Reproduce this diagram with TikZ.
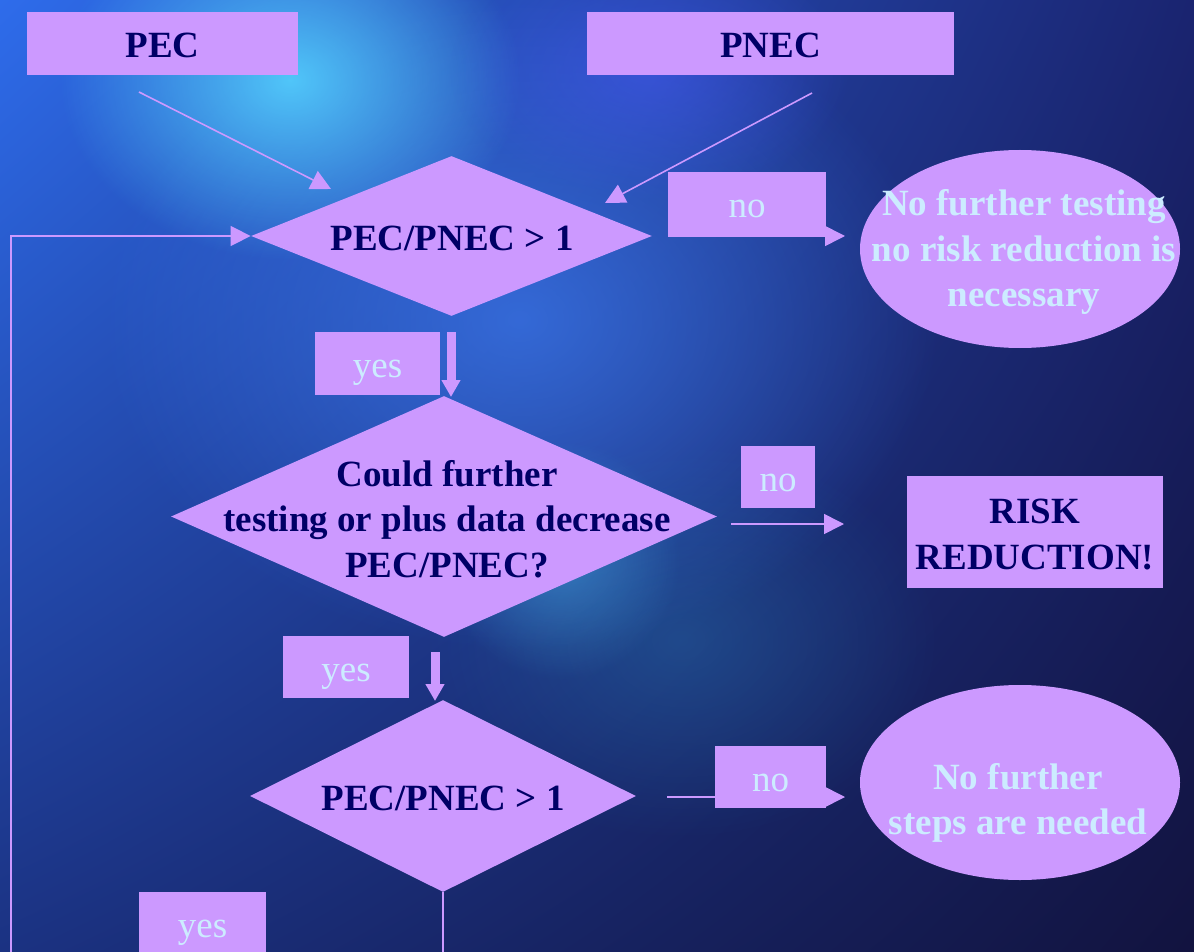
\documentclass[tikz,border=0pt]{standalone}
\usepackage{fontspec}
\setmainfont{Liberation Serif}
\usetikzlibrary{shapes.geometric,arrows.meta,fadings,shadings}
\tikzfading[name=glowfade, inner color=transparent!0, outer color=transparent!100]
\definecolor{lav}{HTML}{CC99FF}
\definecolor{navy}{HTML}{000066}
\definecolor{pale}{HTML}{CCECFF}
\definecolor{bgUL}{HTML}{2E6CEB}
\definecolor{bgUR}{HTML}{1A2470}
\definecolor{bgLL}{HTML}{1B3282}
\definecolor{bgLR}{HTML}{12133F}
\definecolor{glowA}{HTML}{55D2FF}
\definecolor{glowB}{HTML}{3D7BF0}
\definecolor{glowC}{HTML}{2A80B8}
\definecolor{glowD}{HTML}{4A5CFF}
\begin{document}
\begin{tikzpicture}[x=0.5pt,y=-0.5pt,
  lbox/.style={rectangle, fill=lav, inner sep=0pt},
  bt/.style={text=navy, font=\fontsize{18.5pt}{22.75pt}\selectfont\bfseries},
  lt/.style={text=pale, font=\fontsize{18.5pt}{22.75pt}\selectfont},
  ltb/.style={text=pale, font=\fontsize{18.5pt}{22.75pt}\selectfont\bfseries},
  one/.style={text height=14pt, text depth=0pt},
  dia/.style={diamond, fill=lav, inner sep=0pt},
  ell/.style={ellipse, fill=lav, inner sep=0pt},
  thinarr/.style={draw=lav, line width=0.8pt, -{Triangle[length=10pt,width=10pt]}},
  thickarr/.style={draw=lav, line width=4.5pt, -{Triangle[length=8.5pt,width=9pt]}},
  glow/.style={path fading=glowfade}]
\useasboundingbox (0,0) rectangle (1194,952);
\clip (0,0) rectangle (1194,952);
% background
\shade[upper left=bgUL, upper right=bgUR, lower left=bgLL, lower right=bgLR] (0,0) rectangle (1194,952);
\fill[glowB, glow, opacity=0.7] (520,320) ellipse [x radius=420, y radius=330];
\fill[glowA, glow, opacity=0.9] (290,80) ellipse [x radius=230, y radius=180];
\fill[glowD, glow, opacity=0.5] (650,70) ellipse [x radius=200, y radius=130];
\fill[glowC, glow, opacity=0.35] (680,640) ellipse [x radius=260, y radius=200];
\fill[glowA, glow, opacity=0.35] (560,560) ellipse [x radius=120, y radius=120];

% nodes
\node[lbox, bt, one, minimum width=135.5pt, minimum height=31.5pt] (pec) at (162.5,43.5) {PEC};
\node[lbox, bt, one, minimum width=183.5pt, minimum height=31.5pt] (pnec) at (770.5,43.5) {PNEC};
\node[dia, minimum width=200.5pt, minimum height=80pt] (d1) at (451.5,236) {};
\node[bt] (d1t) at (452,238) {PEC/PNEC {>} 1};
\node[lbox, lt, one, minimum width=79pt, minimum height=31.5pt] (no1) at (747,203.5) {no};
\node[ell, minimum width=160pt, minimum height=99pt] (e1) at (1020,249) {};
\node[ltb, align=center] (e1t) at (1024,252) {No further testing\\no risk reduction is\\necessary};
\node[lbox, lt, one, minimum width=62.5pt, minimum height=31.5pt] (yes1) at (377.5,363.5) {yes};
\node[dia, minimum width=273pt, minimum height=120.5pt] (d2) at (444,516.5) {};
\node[bt, align=center] (d2t) at (447,519) {Could further\\testing or plus data decrease\\PEC/PNEC?};
\node[lbox, lt, one, minimum width=37pt, minimum height=31pt] (no2) at (778,477) {no};
\node[lbox, bt, align=center, minimum width=128pt, minimum height=56pt] (risk) at (1035,532) {\rule{0pt}{15pt}RISK\\REDUCTION!};
\node[lbox, lt, one, minimum width=63pt, minimum height=31pt] (yes2) at (346,667) {yes};
\node[dia, minimum width=193pt, minimum height=96pt] (d3) at (443,796) {};
\node[bt] (d3t) at (443,798) {PEC/PNEC {>} 1};
\node[ell, minimum width=160pt, minimum height=97.5pt] (e3) at (1020,782.5) {};
\node[ltb, align=center] (e3t) at (1018,803) {No further\\steps are needed};
\node[lbox, lt, one, minimum width=63.5pt, minimum height=31pt] (yes3) at (202.5,923) {yes};

% connectors
\coordinate (pecfrom) at (139,92);
\coordinate (pecto) at (331,189);
\coordinate (pnecfrom) at (812,93);
\coordinate (pnecto) at (605,203);
\draw[thinarr] (pecfrom) -- (pecto);
\draw[thinarr] (pnecfrom) -- (pnecto);
\coordinate (n1a) at (668,236);
\coordinate (n1b) at (845,236);
\draw[thinarr] (n1a) -- (n1b);
\coordinate (n2a) at (731,524);
\coordinate (n2b) at (844,524);
\draw[thinarr] (n2a) -- (n2b);
\coordinate (n3a) at (667,797);
\coordinate (n3b) at (845,797);
\draw[thinarr] (n3a) -- (n3b);
\coordinate (y1a) at (451,332);
\coordinate (y1b) at (451,397);
\draw[thickarr] (y1a) -- (y1b);
\coordinate (y2a) at (435,652);
\coordinate (y2b) at (435,701);
\draw[thickarr] (y2a) -- (y2b);
\coordinate (loopbot) at (443,990);
\coordinate (loopleft) at (11,236);
\draw[thinarr] (d3.south) -- (loopbot) -| (loopleft) -- (d1.west);
% label box drawn over its connector
\node[lbox, lt, one, minimum width=55.5pt, minimum height=31pt] (no3) at (770.5,777) {no};
\end{tikzpicture}
\end{document}
